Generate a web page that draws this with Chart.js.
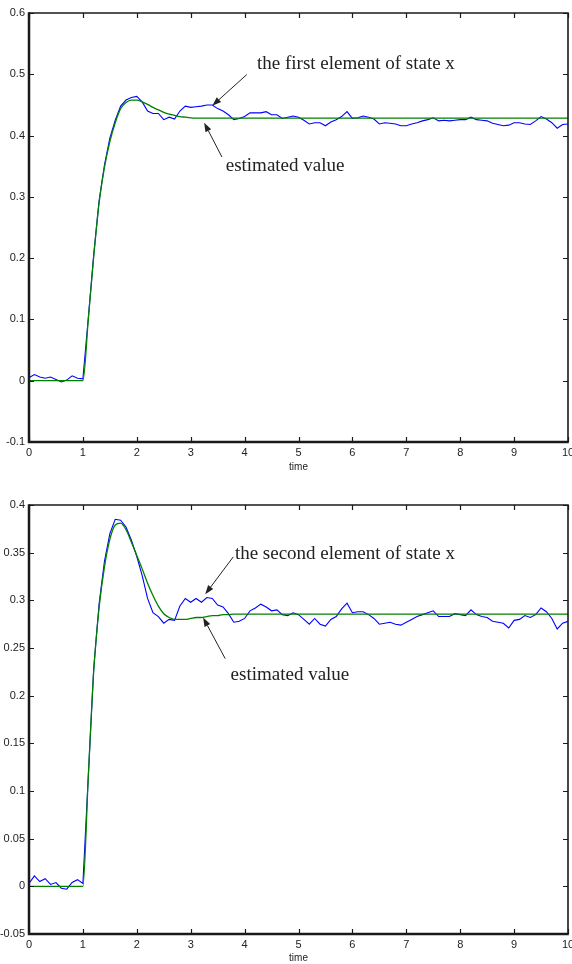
<!DOCTYPE html>
<html>
<head>
<meta charset="utf-8">
<script src="https://cdn.jsdelivr.net/npm/chart.js@4"></script>
<style>
  html, body { margin: 0; padding: 0; background: #fff; overflow: hidden; }
  canvas { display: block; }
</style>
</head>
<body>
<canvas id="chartTop" width="572" height="482"></canvas>
<canvas id="chartBottom" width="572" height="482"></canvas>
<script>
// time axis (s)
const time = [
  0, 0.1, 0.2, 0.3, 0.4, 0.5, 0.6, 0.7, 0.8, 0.9,
  1, 1.1, 1.2, 1.3, 1.4, 1.5, 1.6, 1.7, 1.8, 1.9,
  2, 2.1, 2.2, 2.3, 2.4, 2.5, 2.6, 2.7, 2.8, 2.9,
  3, 3.1, 3.2, 3.3, 3.4, 3.5, 3.6, 3.7, 3.8, 3.9,
  4, 4.1, 4.2, 4.3, 4.4, 4.5, 4.6, 4.7, 4.8, 4.9,
  5, 5.1, 5.2, 5.3, 5.4, 5.5, 5.6, 5.7, 5.8, 5.9,
  6, 6.1, 6.2, 6.3, 6.4, 6.5, 6.6, 6.7, 6.8, 6.9,
  7, 7.1, 7.2, 7.3, 7.4, 7.5, 7.6, 7.7, 7.8, 7.9,
  8, 8.1, 8.2, 8.3, 8.4, 8.5, 8.6, 8.7, 8.8, 8.9,
  9, 9.1, 9.2, 9.3, 9.4, 9.5, 9.6, 9.7, 9.8, 9.9,
  10
];

// first element of state x (measured, blue) and its estimate (green)
const state1 = [
  0.005, 0.010, 0.006, 0.004, 0.006, 0.002, -0.002, 0.001, 0.008, 0.004,
  0.003, 0.102, 0.205, 0.293, 0.352, 0.396, 0.425, 0.448, 0.458, 0.462,
  0.464, 0.455, 0.440, 0.436, 0.436, 0.426, 0.430, 0.427, 0.440, 0.448,
  0.446, 0.447, 0.448, 0.450, 0.450, 0.444, 0.440, 0.434, 0.426, 0.428,
  0.431, 0.437, 0.437, 0.437, 0.439, 0.434, 0.434, 0.428, 0.430, 0.432,
  0.430, 0.425, 0.419, 0.421, 0.421, 0.416, 0.422, 0.426, 0.431, 0.439,
  0.428, 0.429, 0.432, 0.430, 0.427, 0.419, 0.421, 0.420, 0.419, 0.416,
  0.416, 0.419, 0.421, 0.424, 0.426, 0.429, 0.424, 0.425, 0.424, 0.425,
  0.426, 0.426, 0.430, 0.426, 0.425, 0.424, 0.420, 0.418, 0.416, 0.417,
  0.421, 0.421, 0.419, 0.418, 0.424, 0.431, 0.427, 0.421, 0.412, 0.418,
  0.419
];
const estimate1 = [
  0, 0, 0, 0, 0, 0, 0, 0, 0, 0,
  0, 0.100, 0.202, 0.290, 0.348, 0.390, 0.421, 0.444, 0.454, 0.458,
  0.458, 0.455, 0.451, 0.446, 0.442, 0.438, 0.435, 0.433, 0.431, 0.430,
  0.429, 0.4286, 0.4286, 0.4286, 0.4286, 0.4286, 0.4286, 0.4286, 0.4286, 0.4286,
  0.4286, 0.4286, 0.4286, 0.4286, 0.4286, 0.4286, 0.4286, 0.4286, 0.4286, 0.4286,
  0.4286, 0.4286, 0.4286, 0.4286, 0.4286, 0.4286, 0.4286, 0.4286, 0.4286, 0.4286,
  0.4286, 0.4286, 0.4286, 0.4286, 0.4286, 0.4286, 0.4286, 0.4286, 0.4286, 0.4286,
  0.4286, 0.4286, 0.4286, 0.4286, 0.4286, 0.4286, 0.4286, 0.4286, 0.4286, 0.4286,
  0.4286, 0.4286, 0.4286, 0.4286, 0.4286, 0.4286, 0.4286, 0.4286, 0.4286, 0.4286,
  0.4286, 0.4286, 0.4286, 0.4286, 0.4286, 0.4286, 0.4286, 0.4286, 0.4286, 0.4286,
  0.4286
];

// second element of state x (measured, blue) and its estimate (green)
const state2 = [
  0.003, 0.011, 0.005, 0.008, 0.002, 0.004, -0.002, -0.003, 0.004, 0.007,
  0.003, 0.115, 0.228, 0.296, 0.341, 0.370, 0.385, 0.384, 0.377, 0.363,
  0.346, 0.326, 0.302, 0.287, 0.283, 0.276, 0.280, 0.279, 0.294, 0.302,
  0.298, 0.302, 0.298, 0.303, 0.302, 0.295, 0.293, 0.286, 0.277, 0.278,
  0.281, 0.289, 0.292, 0.296, 0.293, 0.289, 0.290, 0.285, 0.284, 0.287,
  0.285, 0.280, 0.275, 0.281, 0.275, 0.273, 0.280, 0.283, 0.291, 0.297,
  0.287, 0.288, 0.288, 0.285, 0.281, 0.275, 0.276, 0.277, 0.275, 0.274,
  0.277, 0.280, 0.283, 0.285, 0.287, 0.289, 0.283, 0.283, 0.283, 0.286,
  0.285, 0.284, 0.290, 0.285, 0.283, 0.282, 0.278, 0.277, 0.276, 0.271,
  0.279, 0.280, 0.284, 0.282, 0.285, 0.292, 0.288, 0.281, 0.270, 0.276,
  0.278
];
const estimate2 = [
  0, 0, 0, 0, 0, 0, 0, 0, 0, 0,
  0, 0.115, 0.225, 0.292, 0.335, 0.364, 0.379, 0.381, 0.374, 0.361,
  0.347, 0.333, 0.318, 0.305, 0.294, 0.286, 0.282, 0.280, 0.280, 0.280,
  0.281, 0.282, 0.282, 0.283, 0.284, 0.284, 0.285, 0.285, 0.2855, 0.2855,
  0.2855, 0.2855, 0.2855, 0.2855, 0.2855, 0.2855, 0.2855, 0.2855, 0.2855, 0.2855,
  0.2855, 0.2855, 0.2855, 0.2855, 0.2855, 0.2855, 0.2855, 0.2855, 0.2855, 0.2855,
  0.2855, 0.2855, 0.2855, 0.2855, 0.2855, 0.2855, 0.2855, 0.2855, 0.2855, 0.2855,
  0.2855, 0.2855, 0.2855, 0.2855, 0.2855, 0.2855, 0.2855, 0.2855, 0.2855, 0.2855,
  0.2855, 0.2855, 0.2855, 0.2855, 0.2855, 0.2855, 0.2855, 0.2855, 0.2855, 0.2855,
  0.2855, 0.2855, 0.2855, 0.2855, 0.2855, 0.2855, 0.2855, 0.2855, 0.2855, 0.2855,
  0.2855
];

// annotation text + arrows, in data units
const notesTop = [
  { text: "the first element of state x", at: [4.23, 0.5175], from: [4.04, 0.4995], to: [3.40, 0.4487] },
  { text: "estimated value", at: [3.65, 0.350], from: [3.58, 0.365], to: [3.25, 0.421] }
];
const notesBottom = [
  { text: "the second element of state x", at: [3.82, 0.349], from: [3.79, 0.3456], to: [3.27, 0.3064] },
  { text: "estimated value", at: [3.74, 0.2213], from: [3.64, 0.2389], to: [3.23, 0.282] }
];

const INK = "#1a1a1a";

function toPoints(values) {
  return values.map((v, i) => ({ x: time[i], y: v }));
}

// MATLAB-like box: full frame plus inward ticks on all four sides
const boxPlugin = {
  id: "box",
  afterDraw(chart) {
    const { ctx, chartArea: a, scales: { x, y } } = chart;
    ctx.save();
    ctx.strokeStyle = INK;
    ctx.lineWidth = 1.2;
    x.ticks.forEach(t => {
      const px = Math.round(x.getPixelForValue(t.value)) + 0.5;
      ctx.beginPath();
      ctx.moveTo(px, a.bottom); ctx.lineTo(px, a.bottom - 5);
      ctx.moveTo(px, a.top); ctx.lineTo(px, a.top + 5);
      ctx.stroke();
    });
    y.ticks.forEach(t => {
      const py = Math.round(y.getPixelForValue(t.value)) + 0.5;
      ctx.beginPath();
      ctx.moveTo(a.left, py); ctx.lineTo(a.left + 5, py);
      ctx.moveTo(a.right, py); ctx.lineTo(a.right - 5, py);
      ctx.stroke();
    });
    ctx.lineWidth = 1.6;
    ctx.beginPath();
    ctx.moveTo(a.left, a.top); ctx.lineTo(a.right, a.top); ctx.lineTo(a.right, a.bottom);
    ctx.stroke();
    ctx.lineWidth = 2.5;
    ctx.beginPath();
    ctx.moveTo(a.left, a.top - 0.8); ctx.lineTo(a.left, a.bottom); ctx.lineTo(a.right + 0.8, a.bottom);
    ctx.stroke();
    ctx.restore();
  }
};

const notesPlugin = {
  id: "notes",
  afterDraw(chart, args, opts) {
    const { ctx, scales: { x, y } } = chart;
    ctx.save();
    ctx.fillStyle = "#222";
    ctx.strokeStyle = "#222";
    ctx.font = '19px "Liberation Serif", "Times New Roman", serif';
    ctx.textBaseline = "middle";
    ctx.textAlign = "left";
    (opts.items || []).forEach(n => {
      ctx.fillText(n.text, x.getPixelForValue(n.at[0]), y.getPixelForValue(n.at[1]));
      const x0 = x.getPixelForValue(n.from[0]), y0 = y.getPixelForValue(n.from[1]);
      const x1 = x.getPixelForValue(n.to[0]), y1 = y.getPixelForValue(n.to[1]);
      const ang = Math.atan2(y1 - y0, x1 - x0);
      const len = 9, half = 3.2;
      const bx = x1 - len * Math.cos(ang), by = y1 - len * Math.sin(ang);
      ctx.lineWidth = 1;
      ctx.beginPath();
      ctx.moveTo(x0, y0); ctx.lineTo(bx, by);
      ctx.stroke();
      ctx.beginPath();
      ctx.moveTo(x1, y1);
      ctx.lineTo(bx + half * Math.sin(ang), by - half * Math.cos(ang));
      ctx.lineTo(bx - half * Math.sin(ang), by + half * Math.cos(ang));
      ctx.closePath();
      ctx.fill();
    });
    ctx.restore();
  }
};

function makeChart(id, state, estimate, yMin, yMax, step, topPad, xHeight, titlePad, notes) {
  const tickFont = { family: '"Liberation Sans", Arial, sans-serif', size: 11 };
  return new Chart(document.getElementById(id), {
    type: "line",
    data: {
      datasets: [
        {
          label: "estimated value",
          data: toPoints(estimate),
          borderColor: "#008000",
          borderWidth: 1.3,
          pointRadius: 0,
          tension: 0.35,
          cubicInterpolationMode: "monotone"
        },
        {
          label: "state",
          data: toPoints(state),
          borderColor: "#0000ff",
          borderWidth: 1.1,
          pointRadius: 0,
          tension: 0
        }
      ]
    },
    options: {
      responsive: false,
      animation: false,
      events: [],
      layout: { padding: { top: topPad, right: 4, left: 0, bottom: 0 } },
      plugins: {
        legend: { display: false },
        tooltip: { enabled: false },
        notes: { items: notes }
      },
      scales: {
        x: {
          type: "linear",
          min: 0,
          max: 10,
          grid: { display: false, drawTicks: false },
          border: { display: false },
          ticks: { stepSize: 1, padding: 4, color: "#222", font: tickFont, maxRotation: 0 },
          title: { display: true, text: "time", color: "#222", font: { family: tickFont.family, size: 10 }, padding: { top: 0, bottom: titlePad } },
          afterFit: s => { s.height = xHeight; s.paddingLeft = 0; s.paddingRight = 0; }
        },
        y: {
          min: yMin,
          max: yMax,
          grid: { display: false, drawTicks: false },
          border: { display: false },
          ticks: {
            stepSize: step,
            padding: 4,
            color: "#222",
            font: tickFont,
            callback: v => String(+v.toFixed(3))
          },
          afterFit: s => { s.width = 29; s.paddingTop = 0; s.paddingBottom = 0; }
        }
      }
    },
    plugins: [boxPlugin, notesPlugin]
  });
}

makeChart("chartTop", state1, estimate1, -0.1, 0.6, 0.1, 13, 40, 9, notesTop);
makeChart("chartBottom", state2, estimate2, -0.05, 0.4, 0.05, 23, 30, 0, notesBottom);
</script>
</body>
</html>
